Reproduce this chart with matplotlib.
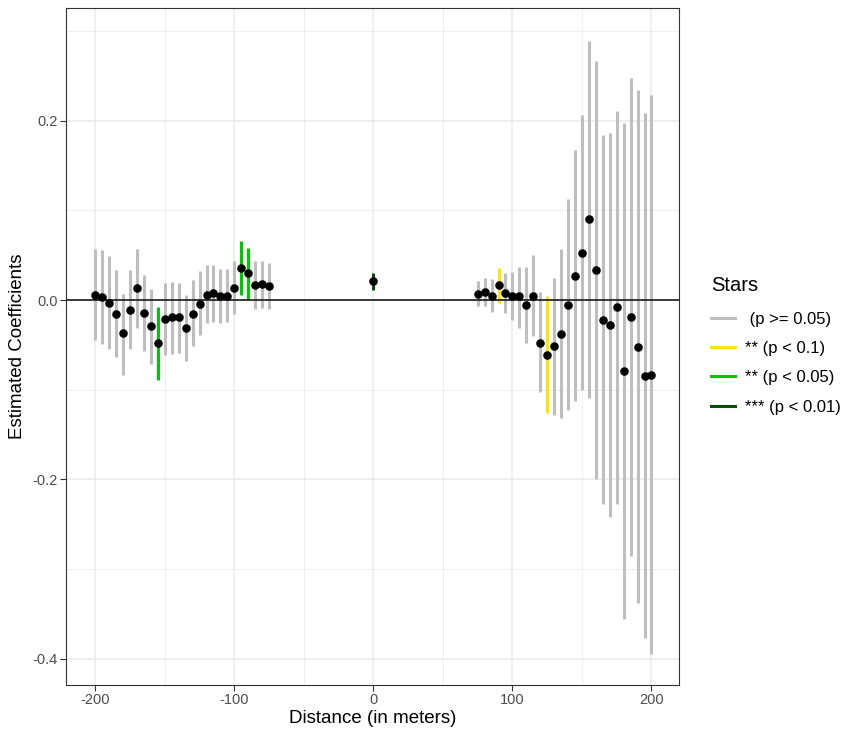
import numpy as np
import matplotlib
matplotlib.use("Agg")
import matplotlib.pyplot as plt
from matplotlib.lines import Line2D

plt.rcParams['font.family'] = ['Liberation Sans', 'DejaVu Sans']

# distance bins (meters)
dist_left = list(range(-200, -70, 5))
dist_mid = [0]
dist_right = list(range(75, 205, 5))

coef_left = [0.006, 0.003, -0.003, -0.015, -0.037, -0.011, 0.013, -0.014, -0.029, -0.048,
             -0.021, -0.019, -0.019, -0.031, -0.015, -0.004, 0.006, 0.008, 0.005, 0.005,
             0.014, 0.036, 0.030, 0.017, 0.018, 0.016]
lo_left = [-0.045, -0.049, -0.055, -0.063, -0.083, -0.055, -0.031, -0.057, -0.071, -0.089,
           -0.061, -0.060, -0.059, -0.068, -0.051, -0.039, -0.026, -0.025, -0.026, -0.024,
           -0.016, 0.006, 0.000, -0.010, -0.009, -0.010]
hi_left = [0.057, 0.056, 0.049, 0.033, 0.007, 0.033, 0.057, 0.028, 0.012, -0.008,
           0.019, 0.020, 0.019, 0.006, 0.022, 0.032, 0.039, 0.039, 0.035, 0.035,
           0.044, 0.066, 0.058, 0.044, 0.044, 0.041]
stars_left = [0] * 9 + [2] + [0] * 11 + [2, 2] + [0] * 3

coef_mid = [0.021]
lo_mid = [0.011]
hi_mid = [0.030]
stars_mid = [3]

coef_right = [0.007, 0.009, 0.005, 0.017, 0.008, 0.004, 0.004, -0.006, 0.005, -0.048,
              -0.061, -0.051, -0.038, -0.005, 0.027, 0.053, 0.090, 0.033, -0.022, -0.028,
              -0.008, -0.079, -0.019, -0.052, -0.085, -0.083]
lo_right = [-0.007, -0.007, -0.013, -0.003, -0.014, -0.022, -0.031, -0.048, -0.040, -0.103,
            -0.126, -0.128, -0.132, -0.122, -0.112, -0.100, -0.109, -0.200, -0.227, -0.242,
            -0.227, -0.355, -0.285, -0.338, -0.377, -0.395]
hi_right = [0.021, 0.025, 0.023, 0.036, 0.030, 0.031, 0.037, 0.037, 0.050, 0.009,
            0.004, 0.025, 0.057, 0.113, 0.167, 0.206, 0.289, 0.266, 0.184, 0.186,
            0.211, 0.197, 0.247, 0.234, 0.208, 0.229]
stars_right = [0, 0, 0, 1] + [0] * 6 + [1] + [0] * 15

star_labels = [" (p >= 0.05)", "** (p < 0.1)", "** (p < 0.05)", "*** (p < 0.01)"]
star_colors = ["#BEBEBE", "#FFE600", "#00C800", "#005000"]

dist = np.array(dist_left + dist_mid + dist_right)
coef = np.array(coef_left + coef_mid + coef_right)
lo = np.array(lo_left + lo_mid + lo_right)
hi = np.array(hi_left + hi_mid + hi_right)
stars = np.array(stars_left + stars_mid + stars_right)

fig = plt.figure(figsize=(8.47, 7.31), dpi=100)
ax = fig.add_axes([0.078, 0.063, 0.724, 0.926])

for k, col in enumerate(star_colors):
    m = stars == k
    ax.vlines(dist[m], lo[m], hi[m], colors=col, linewidth=2.2, zorder=2)

ax.axhline(0, color="#1a1a1a", linewidth=1.2, zorder=3)
ax.scatter(dist, coef, s=38, color="black", zorder=4, linewidths=0)

ax.set_xlim(-221, 220)
ax.set_ylim(-0.429, 0.3255)
ax.set_xticks([-200, -100, 0, 100, 200])
ax.set_xticklabels(["-200", "-100", "0", "100", "200"])
ax.set_yticks([-0.4, -0.2, 0.0, 0.2])
ax.set_yticklabels(["-0.4", "-0.2", "0.0", "0.2"])
ax.set_xticks([-150, -50, 50, 150], minor=True)
ax.set_yticks([-0.3, -0.1, 0.1, 0.3], minor=True)
ax.grid(True, which="major", color="#EBEBEB", linewidth=1.1, zorder=0)
ax.grid(True, which="minor", color="#EBEBEB", linewidth=0.6, zorder=0)
ax.set_axisbelow(True)
ax.tick_params(which="major", length=4, color="#333333", labelsize=10.5,
               labelcolor="#4D4D4D", width=0.8, pad=2)
ax.tick_params(which="minor", length=0)
for s in ax.spines.values():
    s.set_color("#333333")
    s.set_linewidth(0.8)

ax.set_xlabel("Distance (in meters)", fontsize=13.5, labelpad=2)
ax.set_ylabel("Estimated Coefficients", fontsize=13.5, labelpad=5)

handles = [Line2D([], [], color=c, linewidth=2.2) for c in star_colors]
leg = fig.legend(handles, star_labels, title="Stars", loc="upper left",
                 bbox_to_anchor=(0.822, 0.643), frameon=False, fontsize=12,
                 title_fontsize=14.5, handlelength=1.4, handletextpad=0.65,
                 labelspacing=0.86)
leg._legend_box.align = "left"
leg._legend_box.sep = 12

fig.savefig("out.png", dpi=100)
